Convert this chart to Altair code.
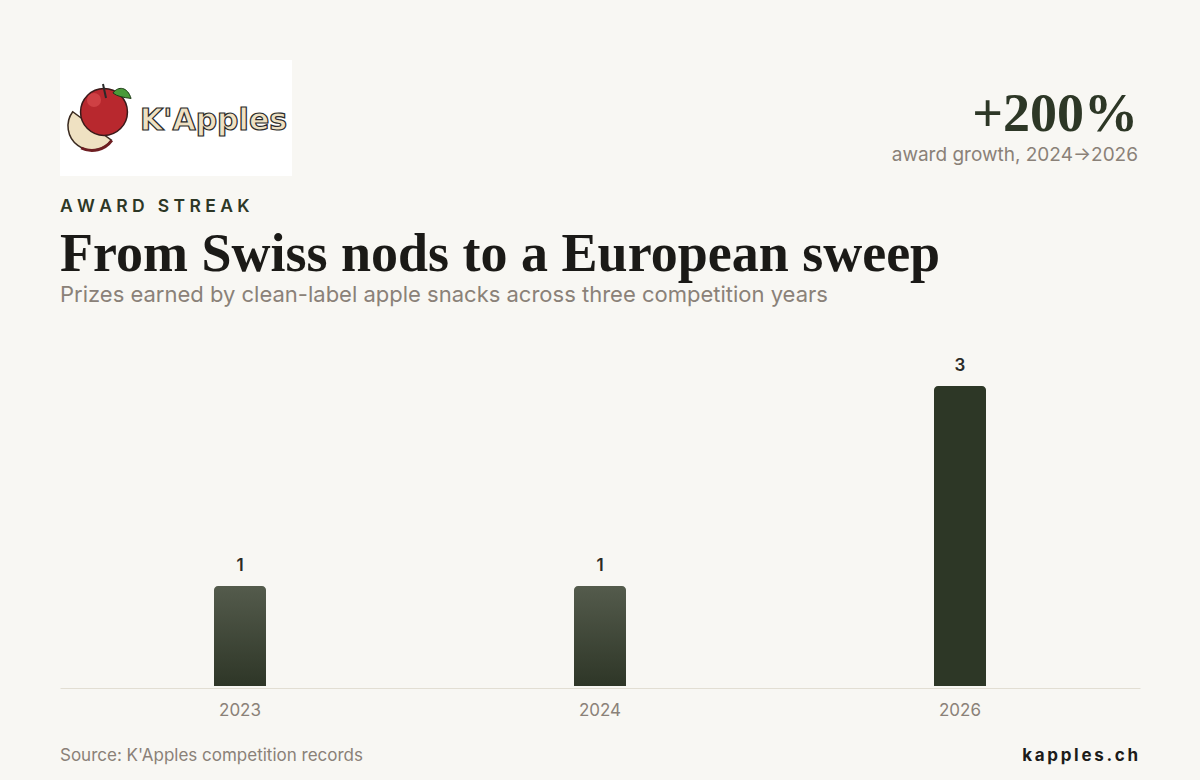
import altair as alt
import pandas as pd

# Award counts per competition year
years = ["2023", "2024", "2026"]
awards = [1, 1, 3]
highlight = [False, False, True]

headline_value = "+200%"
headline_note = "award growth, 2024\u21922026"
kicker = "AWARD STREAK"
title = "From Swiss nods to a European sweep"
subtitle = "Prizes earned by clean-label apple snacks across three competition years"
source = "Source: K'Apples competition records"
site = "kapples.ch"

BG = "#f8f7f3"
DARK = "#2d3726"
INK = "#1b1a17"
GREY = "#8a8178"
SANS = "Inter"
SERIF = "Liberation Serif"

df = pd.DataFrame({"year": years, "awards": awards, "latest": highlight})

x_enc = alt.X(
    "year:N",
    sort=years,
    scale=alt.Scale(paddingInner=0, paddingOuter=0),
    axis=alt.Axis(
        title=None, ticks=False, domainColor="#e2ded3", domainWidth=1, offset=2,
        labelFont=SANS, labelFontSize=17, labelColor=GREY, labelPadding=14,
        labelAngle=0,
    ),
)
y_enc = alt.Y("awards:Q", scale=alt.Scale(domain=[0, 3.5]), axis=None)

base = alt.Chart(df).encode(x=x_enc, y=y_enc)

fade = alt.LinearGradient(
    gradient="linear", x1=0, y1=0, x2=0, y2=1,
    stops=[alt.GradientStop(color="#545b4c", offset=0),
           alt.GradientStop(color="#2e3627", offset=1)],
)

bars_old = base.transform_filter("!datum.latest").mark_bar(
    width=52, fill=fade, cornerRadiusTopLeft=4, cornerRadiusTopRight=4
)
bars_new = base.transform_filter("datum.latest").mark_bar(
    width=52, fill=DARK, cornerRadiusTopLeft=4, cornerRadiusTopRight=4
)
values = base.mark_text(
    font=SANS, fontSize=17, fontWeight=600, color="#2a2a27", dy=-11, baseline="bottom"
).encode(text="awards:Q")


def label(text, x, y, **kw):
    return alt.Chart(pd.DataFrame({"t": [text]})).mark_text(**kw).encode(
        text="t:N", x=alt.value(x), y=alt.value(y)
    )


spaced_kicker = "\u2009\u200a".join(kicker)
spaced_site = "\u200a\u200a".join(site)

texts = [
    label(spaced_kicker, 0, -124, font=SANS, fontSize=17.5, fontWeight=600,
          color=DARK, align="left", baseline="alphabetic"),
    label(title, 0, -65, font=SERIF, fontSize=54, fontWeight="bold",
          color=INK, align="left", baseline="alphabetic"),
    label(subtitle, 0, -34, font=SANS, fontSize=22, color=GREY,
          align="left", baseline="alphabetic"),
    label(headline_value, 1078, -205, font=SERIF, fontSize=54, fontWeight="bold",
          color=DARK, align="right", baseline="alphabetic"),
    label(headline_note, 1078, -175, font=SANS, fontSize=19, color=GREY,
          align="right", baseline="alphabetic"),
    label(source, 0, 425, font=SANS, fontSize=17, color=GREY,
          align="left", baseline="alphabetic"),
    label(spaced_site, 1078, 425, font=SANS, fontSize=17, fontWeight=700,
          color="#1c1c1a", align="right", baseline="alphabetic"),
]

# Logo badge: white card, apple, slice, leaf and wordmark
one = pd.DataFrame({"k": [0]})
card = alt.Chart(one).mark_rect(fill="white").encode(
    x=alt.value(0), x2=alt.value(232), y=alt.value(-276), y2=alt.value(-160)
)
stem = alt.Chart(one).mark_rule(color="#2a2a2a", strokeWidth=2).encode(
    x=alt.value(43), x2=alt.value(46), y=alt.value(-252), y2=alt.value(-238)
)
leaf = alt.Chart(one).mark_point(
    shape="M-1,0 C-0.4,-0.8 0.6,-0.7 1,0.6 C0.2,0.5 -0.5,0.4 -1,0 Z",
    filled=True, fill="#4a9a3a", stroke="#1f3a18", strokeWidth=1, size=330, opacity=1,
).encode(x=alt.value(62), y=alt.value(-243))
apple = alt.Chart(one).mark_point(
    shape="circle", filled=True, fill="#b8282e", stroke="#3a1a1a", strokeWidth=1.5,
    size=2200, opacity=1,
).encode(x=alt.value(44), y=alt.value(-224))
shine = alt.Chart(one).mark_point(
    shape="circle", filled=True, fill="#d4464a", size=200, opacity=0.8,
).encode(x=alt.value(34), y=alt.value(-236))
slice_ = alt.Chart(one).mark_arc(
    fill="#efe1c2", stroke="#3a2a20", strokeWidth=1.5, radius=24,
    theta=2.2, theta2=5.35,
).encode(x=alt.value(32), y=alt.value(-210))
peel = alt.Chart(one).mark_arc(
    fill="#6e1e22", radius=26, radius2=23, theta=2.2, theta2=3.6,
).encode(x=alt.value(32), y=alt.value(-210))
wordmark = alt.Chart(pd.DataFrame({"t": ["K'Apples"]})).mark_text(
    font="DejaVu Sans", fontSize=30, fontWeight="bold", fill="#efe1c2",
    stroke="#2a2a2a", strokeWidth=1.2, align="left", baseline="alphabetic",
).encode(text="t:N", x=alt.value(80), y=alt.value(-206))

chart = alt.layer(
    card, slice_, peel, apple, shine, stem, leaf, wordmark,
    bars_old, bars_new, values, *texts,
).properties(
    width=1080,
    height=350,
    padding={"left": 60, "top": 336, "right": 60, "bottom": 94},
    autosize=alt.AutoSizeParams(type="none"),
    background=BG,
).configure_view(stroke=None)

chart.save("out.html", embed_options={"renderer": "svg", "actions": False})
